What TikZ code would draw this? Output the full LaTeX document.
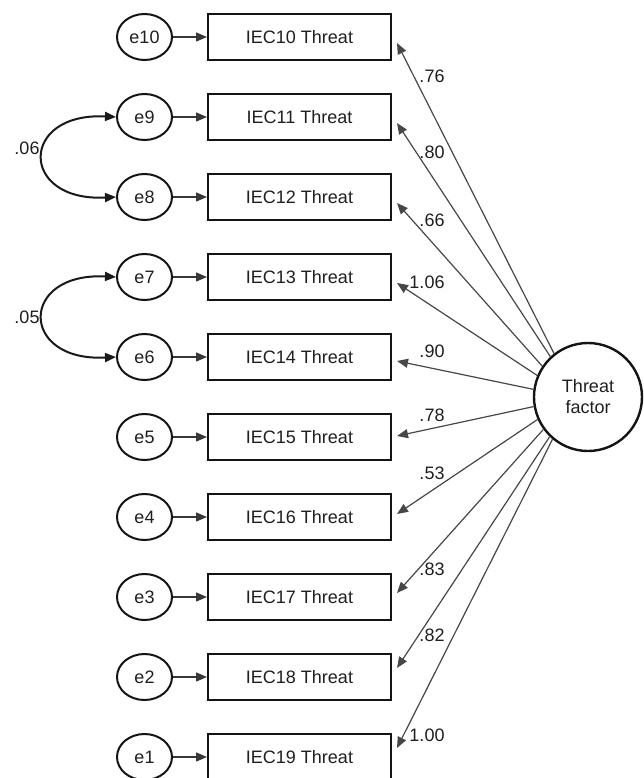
\documentclass[tikz,border=0pt]{standalone}
\usepackage{fontspec}
\setmainfont{Liberation Sans}
\usetikzlibrary{arrows.meta,calc,shapes.geometric}
\begin{document}
\begin{tikzpicture}[x=1pt,y=-1pt,
  font=\fontsize{18}{21}\selectfont,
  every node/.style={text=black!88},
  obs/.style={draw=black!92,line width=2pt,minimum width=183pt,minimum height=46pt,inner sep=0pt},
  err/.style={draw=black!92,line width=2pt,ellipse,minimum width=55pt,minimum height=46pt,inner sep=0pt},
  lat/.style={draw=black!92,line width=2.4pt,circle,minimum size=108pt,inner sep=0pt,align=center},
  ahead/.style={-{Triangle[length=11pt,width=9pt]}},
  errpath/.style={draw=black!78,line width=1.4pt,ahead},
  load/.style={draw=black!72,line width=1.2pt,ahead},
  cov/.style={draw=black!90,line width=2pt,{Triangle[length=11pt,width=9pt]}-{Triangle[length=11pt,width=9pt]}},
  coef/.style={inner sep=0pt}]
\useasboundingbox (0,0) rectangle (643,778);
\clip (0,0) rectangle (643,778);

% indicators and their error terms
\foreach \k in {0,...,9} {
  \pgfmathtruncatemacro\nI{10+\k}
  \pgfmathtruncatemacro\nE{10-\k}
  \node[obs] (b\nI) at (299.5,{37+80*\k}) {IEC\nI{} Threat};
  \node[err] (e\nE) at (144.5,{37+80*\k}) {e\nE};
  \draw[errpath] (e\nE) -- (b\nI);
}

% latent factor
\node[lat] (F) at (588,397) {Threat\\factor};

% factor loadings
\foreach \i/\a/\d/\v/\lx/\ly in {
  10/128/6/.76/432/76,
  11/133/6/.80/432/152,
  12/146/6/.66/432/220,
  13/157/6/1.06/427/282,
  14/172/4/.90/432/351,
  15/190/-1/.78/432/415,
  16/204/-3/.53/432/473,
  17/216/-4/.83/432/569,
  18/226/-9/.82/432/635,
  19/230/-9/1.00/427/735} {
  \coordinate (t\i) at ($(b\i.east)+(5,\d)$);
  \draw[load] (F.\a) -- (t\i);
  \node[coef] (c\i) at (\lx,\ly) {\v};
}

% error covariances
\draw[cov] (e9.west) .. controls +(-97,-5) and +(-97,5) .. (e8.west);
\draw[cov] (e7.west) .. controls +(-97,-5) and +(-97,5) .. (e6.west);
\node[coef] (r98) at (27,148) {.06};
\node[coef] (r76) at (27,317) {.05};
\end{tikzpicture}
\end{document}
